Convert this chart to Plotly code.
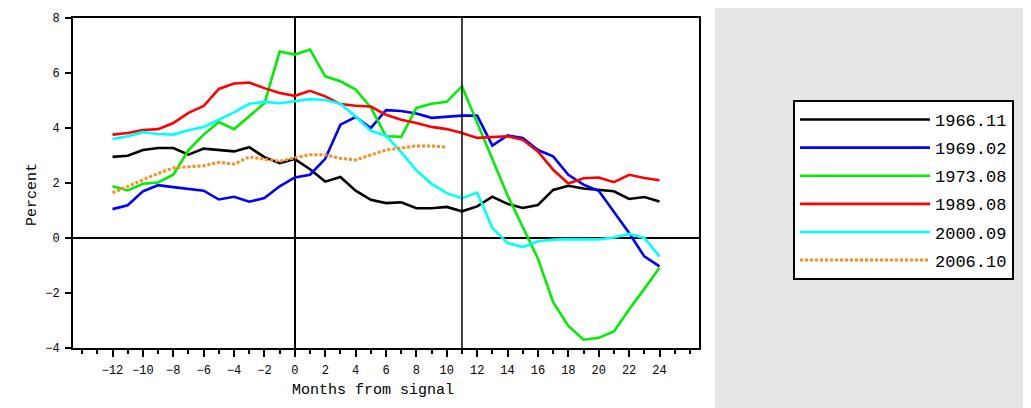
import plotly.graph_objects as go

# ---------------- data ----------------
months = list(range(-12, 25))
months_2006 = list(range(-12, 11))

series_names = ["1966.11", "1969.02", "1973.08", "1989.08", "2000.09", "2006.10"]

s1966_11 = [2.95, 2.99, 3.20, 3.27, 3.27, 3.03, 3.25, 3.20, 3.15, 3.30, 2.94, 2.72, 2.87,
            2.50, 2.05, 2.22, 1.72, 1.39, 1.27, 1.30, 1.08, 1.08, 1.13, 0.97, 1.15,
            1.50, 1.24, 1.09, 1.20, 1.75, 1.90, 1.80, 1.76, 1.70, 1.42, 1.49, 1.33]
s1969_02 = [1.05, 1.19, 1.70, 1.92, 1.85, 1.78, 1.72, 1.40, 1.50, 1.32, 1.45, 1.88, 2.20,
            2.30, 2.88, 4.12, 4.40, 4.00, 4.65, 4.62, 4.53, 4.37, 4.42, 4.45, 4.45,
            3.36, 3.73, 3.64, 3.20, 2.97, 2.30, 1.94, 1.72, 0.97, 0.18, -0.67, -1.03]
s1973_08 = [1.88, 1.73, 1.97, 2.02, 2.30, 3.20, 3.76, 4.22, 3.96, 4.42, 4.90, 6.78, 6.67,
            6.85, 5.88, 5.70, 5.40, 4.75, 3.70, 3.68, 4.73, 4.88, 4.95, 5.52, 4.20,
            2.90, 1.55, 0.40, -0.75, -2.33, -3.20, -3.70, -3.63, -3.40, -2.60, -1.85, -1.08]
s1989_08 = [3.76, 3.82, 3.93, 3.96, 4.18, 4.55, 4.80, 5.42, 5.62, 5.65, 5.45, 5.27, 5.17,
            5.35, 5.15, 4.87, 4.81, 4.78, 4.48, 4.30, 4.18, 4.04, 3.96, 3.82, 3.64,
            3.68, 3.70, 3.57, 3.15, 2.48, 1.98, 2.17, 2.20, 2.03, 2.30, 2.18, 2.10]
s2000_09 = [3.60, 3.70, 3.85, 3.78, 3.76, 3.92, 4.04, 4.30, 4.57, 4.88, 4.95, 4.90, 4.98,
            5.05, 5.02, 4.88, 4.42, 3.90, 3.72, 3.12, 2.46, 1.97, 1.63, 1.45, 1.65,
            0.36, -0.18, -0.33, -0.12, -0.06, -0.04, -0.04, -0.05, 0.02, 0.15, 0.00, -0.67]
s2006_10 = [1.64, 1.88, 2.10, 2.35, 2.55, 2.60, 2.63, 2.75, 2.69, 2.95, 2.87, 2.79, 2.92,
            3.03, 3.03, 2.90, 2.84, 3.03, 3.20, 3.27, 3.35, 3.35, 3.30]

signal_end_month = 11
x_tick_vals = list(range(-12, 25, 2))
y_tick_vals = list(range(-4, 9, 2))

# ---------------- styles ----------------
colors = ["#000000", "#0000ff", "#00ee00", "#ff0000", "#00ffff", "#ff8c1a"]
dashes = ["solid", "solid", "solid", "solid", "solid", "3px,2px"]
widths = [2.6, 2.6, 2.6, 2.6, 2.6, 3]
FONT = "Liberation Mono"

xs = [months, months, months, months, months, months_2006]
ys = [s1966_11, s1969_02, s1973_08, s1989_08, s2000_09, s2006_10]

fig = go.Figure()
for name, x, y, c, d, w in zip(series_names, xs, ys, colors, dashes, widths):
    fig.add_trace(go.Scatter(
        x=x, y=y, mode="lines", name=name, legendgroup=name,
        line=dict(color=c, width=w, dash=d),
    ))

fig.add_vline(x=signal_end_month, line=dict(color="black", width=1.5), layer="above")

# the page body adds an 8px margin; work in screen pixels and shift
OFF = 8
W, H = 1031 - OFF, 408 - OFF
L, R, T, B = 73 - OFF, 332, 18 - OFF, 60
pw, ph = W - L - R, H - T - B

def sx(p):
    return (p - OFF - L) / pw

def sy(p):
    return (H - B - (p - OFF)) / ph

# white panel behind the chart
fig.add_shape(type="rect", xref="paper", yref="paper",
              x0=sx(OFF), x1=sx(715), y0=sy(420), y1=sy(OFF),
              fillcolor="white", line=dict(width=0), layer="below")

fig.add_annotation(text="Months from signal", xref="paper", yref="paper",
                   x=sx(373), y=sy(390), xanchor="center", yanchor="middle",
                   showarrow=False, font=dict(family=FONT, size=15, color="black"))
fig.add_annotation(text="Percent", xref="paper", yref="paper",
                   x=sx(32), y=sy(195), xanchor="center", yanchor="middle",
                   showarrow=False, textangle=-90,
                   font=dict(family=FONT, size=15, color="black"))

fig.update_xaxes(range=[-14.6, 26.6], tickvals=x_tick_vals, ticks="outside", ticklen=7,
                 tickwidth=1.5, tickcolor="black", showline=True, linecolor="black",
                 linewidth=2, mirror=True, showgrid=False, zeroline=True,
                 zerolinecolor="black", zerolinewidth=1.5,
                 minor=dict(dtick=1, ticks="outside", ticklen=4, tickcolor="black", tickwidth=1.5),
                 tickfont=dict(family=FONT, size=12, color="black"), ticklabelstandoff=3)
fig.update_yaxes(range=[-4, 8], tickvals=y_tick_vals, ticks="outside", ticklen=6,
                 tickwidth=1.5, tickcolor="black", showline=True, linecolor="black",
                 linewidth=2, mirror=True, showgrid=False, zeroline=True,
                 zerolinecolor="black", zerolinewidth=1.5,
                 tickfont=dict(family=FONT, size=12, color="black"), ticklabelstandoff=3)

fig.update_layout(
    width=W, height=H,
    margin=dict(l=L, r=R, t=T, b=B, autoexpand=False),
    paper_bgcolor="#e6e6e6", plot_bgcolor="white",
    showlegend=True,
    legend=dict(x=sx(793), y=sy(100), xanchor="left", yanchor="top",
                bgcolor="white", bordercolor="black", borderwidth=2,
                font=dict(family=FONT, size=17, color="black"),
                traceorder="grouped", tracegroupgap=3, itemwidth=130),
)

fig.write_html("out.html")
